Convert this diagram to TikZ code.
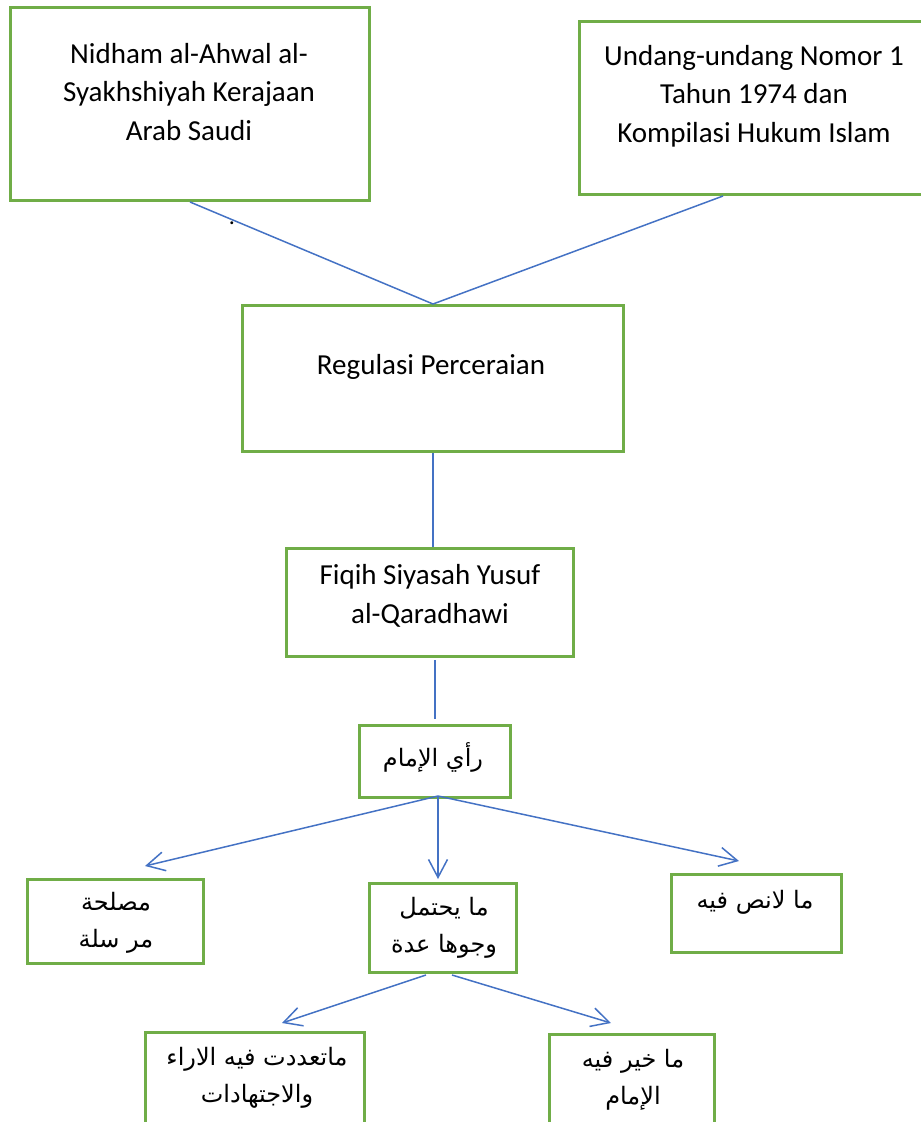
\documentclass[tikz,border=0pt]{standalone}
\usepackage{fontspec}
\setmainfont{Carlito}
\newfontfamily\arabicfont[Script=Arabic]{DejaVu Sans}
\TeXXeTstate=1
\usetikzlibrary{arrows.meta}
\definecolor{boxgreen}{HTML}{70AD47}
\definecolor{lineblue}{HTML}{4472C4}
\tikzset{
  box/.style={draw=boxgreen, line width=3pt, fill=none, inner sep=0pt},
  lat/.style={font=\fontsize{29}{38.5}\selectfont, align=center, inner sep=0pt, text=black},
  arb/.style={font=\arabicfont\fontsize{24}{37}\selectfont, align=center, inner sep=0pt, text=black},
  conn/.style={draw=lineblue, line width=1.5pt},
  arr/.style={conn, -{Straight Barb[length=18pt,width=19pt,line width=1.5pt]}},
}
\begin{document}
\begin{tikzpicture}[x=1pt,y=-1pt]
\useasboundingbox (0,0) rectangle (921,1122);
% boxes
\node[box, minimum width=359pt, minimum height=193pt, anchor=north west] (b1) at (9,6) {};
\node[box, minimum width=360pt, minimum height=173pt, anchor=north west] (b2) at (578,20) {};
\node[box, minimum width=381pt, minimum height=146pt, anchor=north west] (b3) at (241,304) {};
\node[box, minimum width=287pt, minimum height=108pt, anchor=north west] (b4) at (285,547) {};
\node[box, minimum width=151pt, minimum height=72pt, anchor=north west] (b5) at (358,724) {};
\node[box, minimum width=176pt, minimum height=84pt, anchor=north west] (b6) at (26,878) {};
\node[box, minimum width=147pt, minimum height=89pt, anchor=north west] (b7) at (368,882) {};
\node[box, minimum width=170pt, minimum height=78pt, anchor=north west] (b8) at (670,873) {};
\node[box, minimum width=219pt, minimum height=120pt, anchor=north west] (b9) at (144,1031) {};
\node[box, minimum width=165pt, minimum height=120pt, anchor=north west] (b10) at (548,1033) {};
% texts
\node[lat] (t1) at (189,92) {Nidham al-Ahwal al-\\Syakhshiyah Kerajaan\\Arab Saudi};
\node[lat] (t2) at (754,96) {Undang-undang Nomor 1\\Tahun 1974 dan\\Kompilasi Hukum Islam};
\node[lat] (t3) at (431,367) {Regulasi Perceraian};
\node[lat] (t4) at (430,596) {Fiqih Siyasah Yusuf\\al-Qaradhawi};
\node[arb] (t5) at (433,757) {\beginR رأي الإمام\endR};
\node[arb] (t6) at (116,923) {\beginR مصلحة\endR\\\beginR مر سلة\endR};
\node[arb] (t7) at (444,928) {\beginR ما يحتمل\endR\\\beginR وجوها عدة\endR};
\node[arb] (t8) at (755,902) {\beginR ما لانص فيه\endR};
\node[arb] (t9) at (257,1078) {\beginR ماتعددت فيه الاراء\endR\\\beginR والاجتهادات\endR};
\node[arb] (t10) at (633,1080) {\beginR ما خير فيه\endR\\\beginR الإمام\endR};
\node[font=\fontsize{24}{24}\selectfont, inner sep=0pt] (dot) at (232,223) {.};
% connector points
\coordinate (j3) at (b3.north);
\coordinate (s1) at (b1.south);
\coordinate (s2) at (723,196);
\coordinate (s3) at (b3.south);
\coordinate (e4) at (b3.south |- b4.north);
\coordinate (s4) at (435,660);
\coordinate (e5) at (435,719);
\coordinate (s5) at (438,796);
\coordinate (e6) at (145,866);
\coordinate (e7) at (438,879);
\coordinate (e8) at (739,861);
\coordinate (s7l) at (426,975);
\coordinate (s7r) at (452,975);
\coordinate (e9) at (282,1023);
\coordinate (e10) at (611,1023);
% connectors
\draw[conn] (s1) -- (j3);
\draw[conn] (s2) -- (j3);
\draw[conn] (s3) -- (e4);
\draw[conn] (s4) -- (e5);
\draw[arr] (s5) -- (e6);
\draw[arr] (s5) -- (e7);
\draw[arr] (s5) -- (e8);
\draw[arr] (s7l) -- (e9);
\draw[arr] (s7r) -- (e10);
\end{tikzpicture}
\end{document}
